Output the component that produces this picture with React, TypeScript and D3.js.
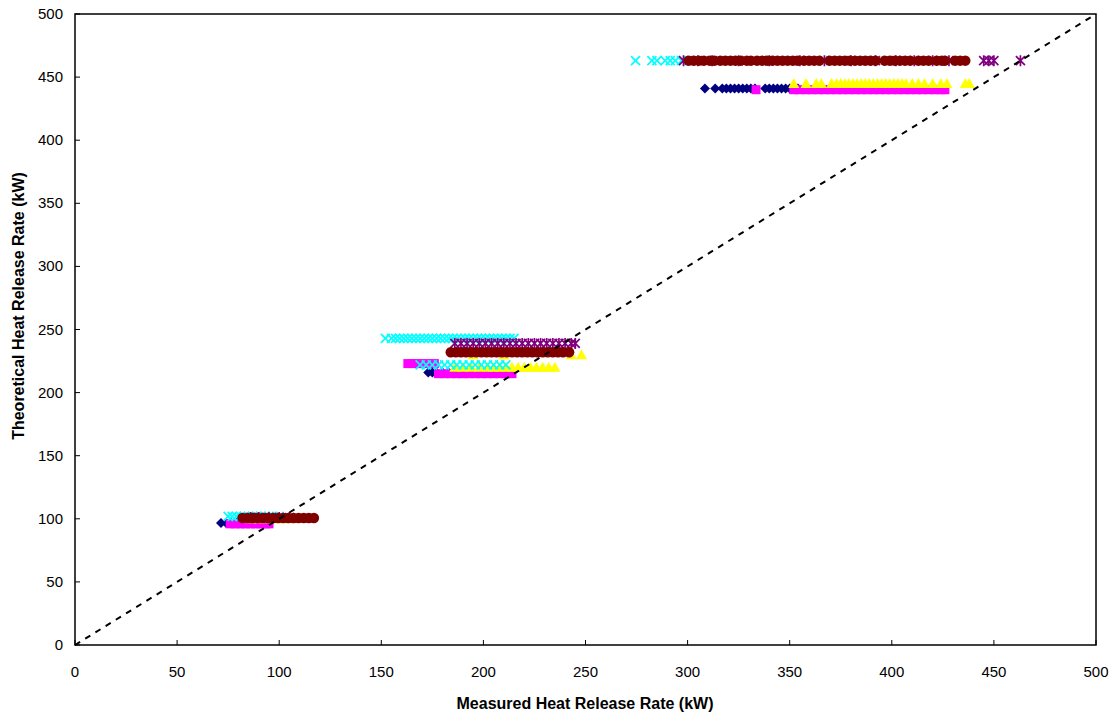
import React from "react";
import * as d3 from "d3";

// ---- Data (measured HRR values at each theoretical HRR level) ----
const ticks = [0, 50, 100, 150, 200, 250, 300, 350, 400, 450, 500];

// Navy diamonds
const navyTopLevel = 441;
const navyTop = [308.5, 313.5, 317, 319, 321, 323, 325, 327, 329, 331, 333, 338, 340, 342, 344, 346, 348, 350, 352, 354, 414, 419, 421];
const navyMidLevel = 216;
const navyMid = [173, 175, 177, 180, 183, 186, 189, 192, 195, 198, 201, 204];
const navyLowLevel = 96.7;
const navyLow = [71.5, 74, 76.5, 79, 81.5, 84, 86.5, 89];

// Magenta squares
const magentaTopLevel = 440;
const magentaTop = [333.5, 352, 355, 358, 361, 364, 367, 370, 373, 376, 379, 382, 385, 388, 391, 394, 397, 400, 403, 406, 409, 412, 415, 418, 421, 424, 426];
const magentaMidLevelA = 223;
const magentaMidA = [163, 165, 167.5, 170, 173, 176];
const magentaMidLevelB = 215;
const magentaMidB = [178, 181, 184, 187, 190, 193, 196, 199, 202, 205, 208, 211, 214];
const magentaLowLevel = 96;
const magentaLow = [76, 78.5, 81, 83.5, 86, 88.5, 91, 93.5, 95];

// Yellow triangles
const yellowTopLevel = 445;
const yellowTop = [352, 358, 363, 365.5, 370.5, 373, 375, 377, 379, 381, 383, 385, 387, 389, 391, 393, 395, 397, 399, 401, 403, 405, 407, 410, 413, 416, 420, 424, 427, 436, 438];
const yellowMidLevelA = 220;
const yellowMidA = [186, 190, 194, 198, 202, 205, 208, 211, 214, 217, 220, 223, 226, 229, 232, 235];
const yellowMidLevelB = 230;
const yellowMidB = [195, 210, 243, 248];
const yellowLowLevel = 100;
const yellowLow = [86, 90, 94, 98, 102, 106];

// Cyan crosses
const cyanTopLevel = 463;
const cyanTop = [274.5, 282.5, 285, 289, 291.5, 294, 297, 300, 315, 340, 370, 394, 398];
const cyanMidLevelA = 243;
const cyanMidA = [152, 155, 157, 159, 161, 163, 165, 167, 169, 171, 173, 175, 177, 179, 181, 183, 185, 187, 189, 191, 193, 195, 197, 199, 201, 203, 205, 207, 209, 211, 213, 215];
const cyanMidLevelB = 222;
const cyanMidB = [169, 172, 175, 178, 181, 184, 187, 190, 193, 196, 199, 202, 205, 208, 211];
const cyanLowLevel = 102;
const cyanLow = [75, 77, 79, 81, 83, 85, 87, 89, 91, 93, 95, 97, 100];

// Purple asterisks
const purpleTopLevel = 463;
const purpleTop = [298, 305, 312, 325, 340, 355, 367, 380, 392, 402, 411, 420, 428, 445, 447.5, 450, 463];
const purpleMidLevel = 239;
const purpleMid = [186, 189, 192, 195, 198, 201, 204, 207, 210, 213, 216, 219, 222, 225, 228, 231, 234, 237, 240, 243, 245];
const purpleLowLevel = 101;
const purpleLow = [86, 90, 95, 100, 105];

// Maroon circles
const maroonTopLevel = 463;
const maroonTop = [300.5, 303, 305.5, 308, 311, 313, 316, 318.5, 321, 323.5, 326, 329, 331, 334, 336.5, 339, 341.5, 344, 346.5, 349, 351.5, 354, 357, 359.5, 362, 364.5, 369.5, 372, 374.5, 377, 379.5, 382, 384.5, 387, 389.5, 392, 396.5, 399, 401.5, 404, 406.5, 409, 413, 415.5, 418, 422, 424.5, 426, 431, 433.5, 436];
const maroonMidLevel = 232;
const maroonMid = [184, 186.5, 189, 191.5, 194, 196.5, 199, 201.5, 204, 206.5, 209, 211.5, 214, 216.5, 219, 221.5, 224, 226.5, 229, 231.5, 234, 236.5, 239, 242];
const maroonLowLevel = 100.6;
const maroonLow = [82, 84.5, 87, 89.5, 92, 94.5, 97, 99.5, 102, 104.5, 107, 109.5, 112, 114.5, 117];

type Grp = { level: number; vals: number[] };
const series: { name: string; color: string; shape: string; groups: Grp[] }[] = [
  { name: "navy", color: "#000080", shape: "diamond", groups: [
    { level: navyTopLevel, vals: navyTop }, { level: navyMidLevel, vals: navyMid }, { level: navyLowLevel, vals: navyLow }] },
  { name: "magenta", color: "#FF00FF", shape: "square", groups: [
    { level: magentaTopLevel, vals: magentaTop }, { level: magentaMidLevelA, vals: magentaMidA }, { level: magentaMidLevelB, vals: magentaMidB }, { level: magentaLowLevel, vals: magentaLow }] },
  { name: "yellow", color: "#FFFF00", shape: "triangle", groups: [
    { level: yellowTopLevel, vals: yellowTop }, { level: yellowMidLevelA, vals: yellowMidA }, { level: yellowMidLevelB, vals: yellowMidB }, { level: yellowLowLevel, vals: yellowLow }] },
  { name: "cyan", color: "#00FFFF", shape: "x", groups: [
    { level: cyanTopLevel, vals: cyanTop }, { level: cyanMidLevelA, vals: cyanMidA }, { level: cyanMidLevelB, vals: cyanMidB }, { level: cyanLowLevel, vals: cyanLow }] },
  { name: "purple", color: "#800080", shape: "star", groups: [
    { level: purpleTopLevel, vals: purpleTop }, { level: purpleMidLevel, vals: purpleMid }, { level: purpleLowLevel, vals: purpleLow }] },
  { name: "maroon", color: "#800000", shape: "circle", groups: [
    { level: maroonTopLevel, vals: maroonTop }, { level: maroonMidLevel, vals: maroonMid }, { level: maroonLowLevel, vals: maroonLow }] },
];

const W = 1113, H = 714;
const x = d3.scaleLinear().domain([0, 500]).range([75, 1096]);
const y = d3.scaleLinear().domain([0, 500]).range([645, 14]);

function Marker({ shape, color, cx, cy }: { shape: string; color: string; cx: number; cy: number }) {
  if (shape === "diamond") {
    const r = 5;
    return <path d={`M${cx},${cy - r}L${cx + r},${cy}L${cx},${cy + r}L${cx - r},${cy}Z`} fill={color} />;
  }
  if (shape === "square") {
    return <rect x={cx - 4.5} y={cy - 4.5} width={9} height={9} fill={color} />;
  }
  if (shape === "triangle") {
    return <path d={`M${cx},${cy - 5.5}L${cx + 5.5},${cy + 4.5}L${cx - 5.5},${cy + 4.5}Z`} fill={color} />;
  }
  if (shape === "x") {
    return <path d={`M${cx - 4.5},${cy - 4.5}L${cx + 4.5},${cy + 4.5}M${cx - 4.5},${cy + 4.5}L${cx + 4.5},${cy - 4.5}`} stroke={color} strokeWidth={1.7} fill="none" />;
  }
  if (shape === "star") {
    return <path d={`M${cx - 4.5},${cy - 4.5}L${cx + 4.5},${cy + 4.5}M${cx - 4.5},${cy + 4.5}L${cx + 4.5},${cy - 4.5}M${cx},${cy - 5.5}L${cx},${cy + 5.5}`} stroke={color} strokeWidth={1.7} fill="none" />;
  }
  return <circle cx={cx} cy={cy} r={5.2} fill={color} />;
}

export default function App() {
  const font = "'Liberation Sans', Arial, sans-serif";
  return (
    <svg width={W} height={H} style={{ position: "absolute", left: 0, top: 0, background: "#fff" }} fontFamily={font}>
      <rect x={0} y={0} width={W} height={H} fill="#fff" />
      {series.map((s) => (
        <g key={s.name}>
          {s.groups.flatMap((g, gi) =>
            g.vals.map((v, i) => (
              <Marker key={`${gi}-${i}`} shape={s.shape} color={s.color} cx={x(v)} cy={y(g.level)} />
            ))
          )}
        </g>
      ))}
      <line x1={x(0)} y1={y(0)} x2={x(500)} y2={y(500)} stroke="#000" strokeWidth={2} strokeDasharray="6,6" />
      <rect x={x(0)} y={y(500)} width={x(500) - x(0)} height={y(0) - y(500)} fill="none" stroke="#000" strokeWidth={1.5} />
      {ticks.map((t) => (
        <g key={`xt${t}`}>
          <line x1={x(t)} x2={x(t)} y1={y(0)} y2={y(0) - 5} stroke="#000" strokeWidth={1} />
          <text x={x(t)} y={677} textAnchor="middle" fontSize={15}>{t}</text>
        </g>
      ))}
      {ticks.map((t) => (
        <g key={`yt${t}`}>
          <line x1={x(0)} x2={x(0) + 5} y1={y(t)} y2={y(t)} stroke="#000" strokeWidth={1} />
          <text x={63} y={y(t) + 5} textAnchor="end" fontSize={15}>{t}</text>
        </g>
      ))}
      <text x={585} y={709} textAnchor="middle" fontSize={16} fontWeight="bold">Measured Heat Release Rate (kW)</text>
      <text transform={`translate(24,${306}) rotate(-90)`} textAnchor="middle" fontSize={16} fontWeight="bold">Theoretical Heat Release Rate (kW)</text>
    </svg>
  );
}
